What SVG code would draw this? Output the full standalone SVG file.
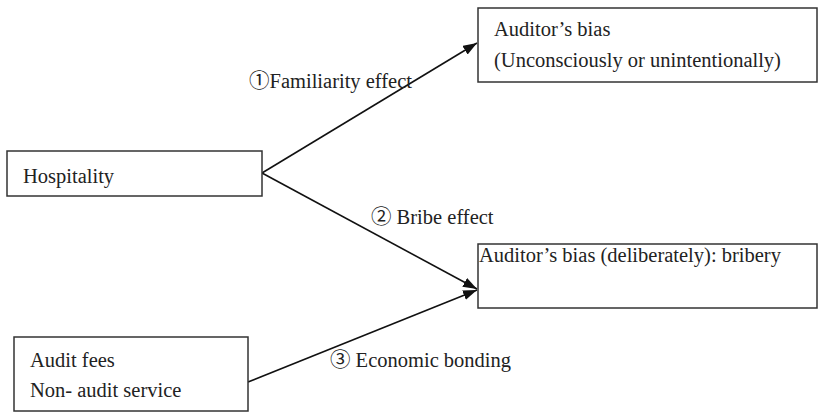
<svg xmlns="http://www.w3.org/2000/svg" width="819" height="412" viewBox="0 0 819 412">
<style>
.box{fill:#fff;stroke:#333;stroke-width:1.5}
.t{font-family:'Liberation Serif','Noto Sans CJK JP',serif;font-size:20.5px;fill:#222}
.c{stroke:#111;stroke-width:1.6;fill:none}
</style>
<defs>
<marker id="ah" markerUnits="userSpaceOnUse" markerWidth="14" markerHeight="10" refX="14" refY="5" orient="auto">
<path d="M0,0 L14,5 L0,10 Z" fill="#111"/>
</marker>
</defs>
<rect width="819" height="412" fill="#fff"/>
<g id="connectors">
<line class="c" x1="262" y1="173" x2="477" y2="43" marker-end="url(#ah)"/>
<line class="c" x1="262" y1="173" x2="477" y2="289" marker-end="url(#ah)"/>
<line class="c" x1="248" y1="382" x2="477" y2="290" marker-end="url(#ah)"/>
<text class="t" x="249" y="88">①Familiarity effect</text>
<text class="t" x="371" y="224">② Bribe effect</text>
<text class="t" x="330" y="367">③ Economic bonding</text>
</g>
<g id="bias-unconscious">
<rect class="box" x="478" y="8" width="339" height="74"/>
<text class="t" x="494" y="36">Auditor’s bias</text>
<text class="t" x="494" y="67">(Unconsciously or unintentionally)</text>
</g>
<g id="hospitality">
<rect class="box" x="7" y="151" width="255" height="45"/>
<text class="t" x="23" y="183">Hospitality</text>
</g>
<g id="bias-deliberate">
<rect class="box" x="478" y="244" width="339" height="64"/>
<text class="t" x="479" y="262">Auditor’s bias (deliberately): bribery</text>
</g>
<g id="fees">
<rect class="box" x="14" y="337" width="234" height="74"/>
<text class="t" x="30" y="367">Audit fees</text>
<text class="t" x="30" y="397">Non- audit service</text>
</g>
</svg>
